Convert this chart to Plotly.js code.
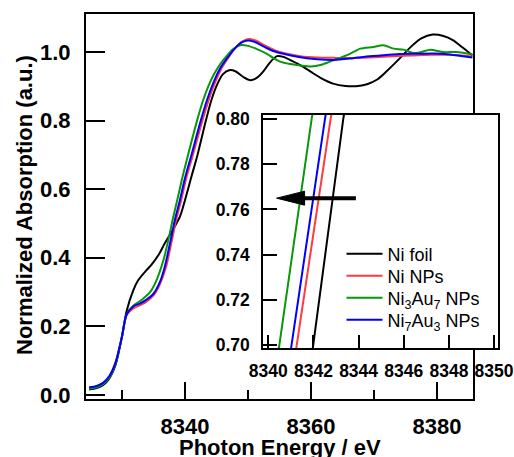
<!DOCTYPE html>
<html>
<head>
<meta charset="utf-8">
<script src="https://cdn.plot.ly/plotly-3.0.1.min.js"></script>
<style>html,body{margin:0;padding:0;background:#fff;}#chart{width:514px;height:457px;}</style>
</head>
<body>
<div id="chart"></div>
<script>
// ---- Data ----
const seriesNames = ['Ni foil', 'Ni NPs', 'Ni<sub>3</sub>Au<sub>7</sub> NPs', 'Ni<sub>7</sub>Au<sub>3</sub> NPs'];
const seriesColors = ['#000000', '#ff3b3b', '#0a960a', '#0000ff'];

const niFoilE = [8324.8,8326,8327,8328,8329,8330,8330.75,8331.8,8332.6,8333.9,8334.7,8335.8,8336.8,8338.1,8339.2,8340,8341,8341.99,8343.32,8344.2,8345.1,8346,8347,8348,8349.2,8350.4,8351.5,8352.5,8353.5,8354.6,8355.6,8357,8358.3,8360,8361.5,8363.5,8365.5,8367.5,8369,8370.5,8372,8374,8376,8377.5,8379.3,8381,8382.5,8384,8385.6];
const niFoilA = [0.016,0.020,0.028,0.048,0.088,0.170,0.245,0.305,0.335,0.364,0.380,0.408,0.442,0.482,0.520,0.568,0.635,0.700,0.800,0.860,0.905,0.935,0.947,0.944,0.928,0.918,0.926,0.945,0.970,0.988,0.986,0.974,0.962,0.942,0.925,0.908,0.901,0.901,0.907,0.920,0.944,0.980,1.018,1.040,1.051,1.047,1.035,1.014,0.990];

const niNPsE = [8324.8,8326,8327,8328,8329,8330,8330.75,8331.8,8332.9,8333.9,8335,8336,8337,8337.8,8338.6,8339.4,8340.2,8341.26,8342.76,8343.8,8344.8,8345.8,8346.9,8348,8349.2,8350.3,8351.3,8352.8,8354.3,8356,8358.3,8361,8364,8367,8370,8373,8376,8379,8382,8385.6];
const niNPsA = [0.020,0.024,0.033,0.053,0.095,0.170,0.232,0.252,0.262,0.272,0.290,0.322,0.373,0.440,0.510,0.568,0.632,0.700,0.800,0.862,0.912,0.952,0.984,1.012,1.032,1.038,1.033,1.018,1.005,0.996,0.988,0.984,0.983,0.983,0.985,0.988,0.990,0.992,0.992,0.987];

const ni3au7E = [8324.8,8326,8327,8328,8329,8330,8330.75,8331.8,8333.1,8334.4,8335.5,8336.6,8337.4,8338.1,8338.8,8339.6,8340.49,8341.92,8342.8,8343.7,8344.6,8345.6,8346.6,8347.6,8348.7,8350,8351.5,8353,8354,8355.1,8356.7,8358.3,8360,8361.5,8363,8364.5,8365.7,8367,8367.8,8369.9,8371.5,8373.1,8374.7,8376.2,8377.5,8378.9,8381,8383.1,8385.6];
const ni3au7A = [0.018,0.022,0.031,0.051,0.092,0.168,0.235,0.260,0.277,0.298,0.335,0.394,0.455,0.515,0.570,0.635,0.700,0.800,0.855,0.900,0.935,0.965,0.988,1.008,1.020,1.018,1.008,0.995,0.983,0.972,0.965,0.961,0.958,0.962,0.972,0.982,0.991,1.003,1.010,1.015,1.020,1.010,1.007,0.997,1.000,1.007,1.000,1.000,0.993];

const ni7au3E = [8324.8,8326,8327,8328,8329,8330,8330.75,8331.8,8332.9,8333.9,8335,8336,8336.8,8337.6,8338.4,8339.2,8340,8341.03,8342.51,8343.5,8344.5,8345.5,8346.6,8347.8,8349,8350,8351,8352.5,8354,8355.6,8358.3,8361,8363.5,8366.2,8368.8,8371.5,8374.1,8377,8379.4,8382,8385.6];
const ni7au3A = [0.022,0.026,0.035,0.055,0.095,0.170,0.235,0.258,0.267,0.278,0.295,0.328,0.374,0.440,0.510,0.568,0.632,0.700,0.800,0.860,0.910,0.950,0.980,1.008,1.028,1.034,1.030,1.016,1.003,0.995,0.985,0.979,0.977,0.981,0.987,0.991,0.994,0.995,0.996,0.993,0.984];

const energies = [niFoilE, niNPsE, ni3au7E, ni7au3E];
const absorb = [niFoilA, niNPsA, ni3au7A, ni7au3A];

// axis ticks
const mainXTicks = [8340, 8360, 8380];
const mainYTicks = [0.0, 0.2, 0.4, 0.6, 0.8, 1.0];
const insetXTicks = [8340, 8342, 8344, 8346, 8348, 8350];
const insetYTicks = [0.70, 0.72, 0.74, 0.76, 0.78, 0.80];

// ranges
const mainXRange = [8324.3, 8385.7];
const mainYRange = [-0.012, 1.111];
const insetXRange = [8339.78, 8350.16];
const insetYRange = [0.6987, 0.8018];

// arrow (inset coordinates)
const arrowTail = [8343.88, 0.765];
const arrowTip = [8340.37, 0.765];

const xTitle = 'Photon Energy / eV';
const yTitle = 'Normalized Absorption (a.u.)';

const font = 'Arial, "Liberation Sans", Helvetica, sans-serif';

const W = 514, H = 457;
const L = 86, R = 10, T = 14, B = 58;
const plotW = W - L - R, plotH = H - T - B;
const mainRightPx = 473;
const inset = {l: 263.3, r: 497.7, t: 115, b: 348};
const px2x = p => (p - L) / plotW;
const px2y = p => (H - B - p) / plotH;

const legendIds = ['legend', 'legend2', 'legend3', 'legend4'];
const legendRowsPx = [254, 276, 298, 320];
const legendLeftPx = 341.5;

const traces = [];
for (let i = 0; i < 4; i++) {
  traces.push({
    x: energies[i], y: absorb[i], type: 'scatter', mode: 'lines',
    line: {color: seriesColors[i], width: 2, shape: 'spline', smoothing: 0.8},
    xaxis: 'x', yaxis: 'y', showlegend: false, hoverinfo: 'skip'
  });
}
for (let i = 0; i < 4; i++) {
  traces.push({
    x: energies[i], y: absorb[i], type: 'scatter', mode: 'lines',
    name: seriesNames[i], legend: legendIds[i],
    line: {color: seriesColors[i], width: 2},
    xaxis: 'x2', yaxis: 'y2', showlegend: true, hoverinfo: 'skip'
  });
}

const headLenData = 28 / 22.6;
const headHalfData = 7 / 2260;

const layout = {
  width: W, height: H,
  margin: {l: L, r: R, t: T, b: B, pad: 0},
  paper_bgcolor: '#ffffff', plot_bgcolor: 'rgba(0,0,0,0)',
  font: {family: font, color: '#000'},
  showlegend: true,
  xaxis: {
    domain: [0, px2x(mainRightPx)],
    range: mainXRange, tickvals: mainXTicks, ticktext: mainXTicks.map(String),
    ticks: 'inside', ticklen: 17, tickwidth: 2, tickcolor: '#000',
    minor: {dtick: 10, tick0: 8330, ticks: 'inside', ticklen: 9, tickwidth: 2, tickcolor: '#000'},
    showline: true, linewidth: 2, linecolor: '#000', mirror: true,
    showgrid: false, zeroline: false,
    tickfont: {family: font, size: 22, color: '#000', weight: 'bold'},
    ticklabelstandoff: 7,
    anchor: 'y'
  },
  yaxis: {
    domain: [0, 1],
    range: mainYRange, tickvals: mainYTicks, ticktext: mainYTicks.map(v => v.toFixed(1)),
    ticks: 'inside', ticklen: 19, tickwidth: 2, tickcolor: '#000',
    showline: true, linewidth: 2, linecolor: '#000', mirror: true,
    showgrid: false, zeroline: false,
    tickfont: {family: font, size: 22, color: '#000', weight: 'bold'},
    ticklabelstandoff: 9,
    anchor: 'x'
  },
  xaxis2: {
    domain: [px2x(inset.l), px2x(inset.r)],
    range: insetXRange, tickvals: insetXTicks, ticktext: insetXTicks.map(String),
    ticks: 'inside', ticklen: 13, tickwidth: 2, tickcolor: '#000',
    showline: true, linewidth: 2, linecolor: '#000', mirror: true,
    showgrid: false, zeroline: false,
    tickfont: {family: font, size: 17.5, color: '#000', weight: 'bold'},
    ticklabelstandoff: 6,
    anchor: 'y2'
  },
  yaxis2: {
    domain: [px2y(inset.b), px2y(inset.t)],
    range: insetYRange, tickvals: insetYTicks, ticktext: insetYTicks.map(v => v.toFixed(2)),
    ticks: 'inside', ticklen: 14, tickwidth: 2, tickcolor: '#000',
    showline: true, linewidth: 2, linecolor: '#000', mirror: true,
    showgrid: false, zeroline: false,
    tickfont: {family: font, size: 17.5, color: '#000', weight: 'bold'},
    ticklabelstandoff: 8,
    anchor: 'x2'
  },
  annotations: [
    {text: '<b>' + xTitle + '</b>', xref: 'paper', yref: 'paper',
     x: px2x((L + mainRightPx) / 2), y: px2y(447), xanchor: 'center', yanchor: 'middle',
     showarrow: false, font: {family: font, size: 22, color: '#000'}},
    {text: '<b>' + yTitle + '</b>', xref: 'paper', yref: 'paper', textangle: -90,
     x: px2x(24), y: px2y(205), xanchor: 'center', yanchor: 'middle',
     showarrow: false, font: {family: font, size: 22, color: '#000'}}
  ],
  shapes: [
    {type: 'rect', xref: 'x2', yref: 'y2', layer: 'below',
     x0: insetXRange[0], x1: insetXRange[1], y0: insetYRange[0], y1: insetYRange[1],
     fillcolor: '#ffffff', line: {width: 0}},
    {type: 'line', xref: 'x2', yref: 'y2', layer: 'above',
     x0: arrowTail[0], y0: arrowTail[1], x1: arrowTip[0] + headLenData * 0.9, y1: arrowTip[1],
     line: {color: '#000', width: 4}},
    {type: 'path', xref: 'x2', yref: 'y2', layer: 'above',
     path: 'M ' + arrowTip[0] + ',' + arrowTip[1] +
           ' L ' + (arrowTip[0] + headLenData) + ',' + (arrowTip[1] + headHalfData) +
           ' L ' + (arrowTip[0] + headLenData) + ',' + (arrowTip[1] - headHalfData) + ' Z',
     fillcolor: '#000', line: {color: '#000', width: 1}}
  ]
};

legendIds.forEach((id, i) => {
  layout[id] = {
    x: px2x(legendLeftPx), y: px2y(legendRowsPx[i]), xanchor: 'left', yanchor: 'middle',
    xref: 'paper', yref: 'paper', itemwidth: 36,
    bgcolor: 'rgba(0,0,0,0)', borderwidth: 0,
    font: {family: font, size: 18, color: '#000'}
  };
});

Plotly.newPlot('chart', traces, layout, {displayModeBar: false, staticPlot: true});
</script>
</body>
</html>
